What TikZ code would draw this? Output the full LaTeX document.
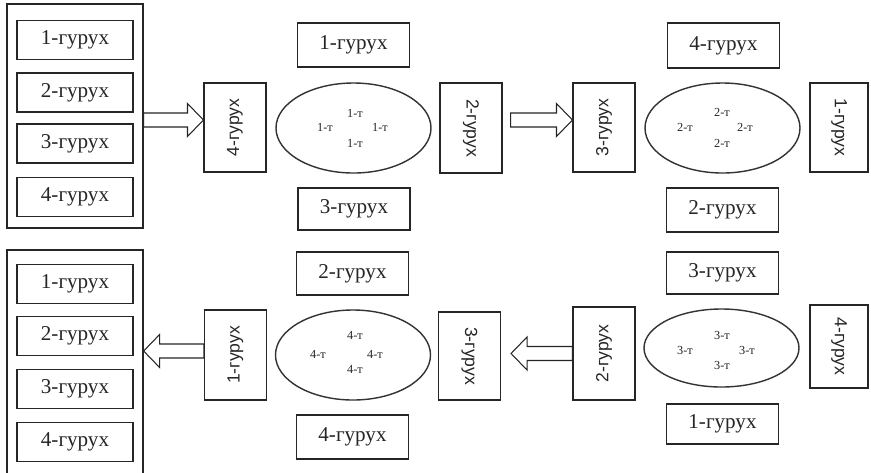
\documentclass[tikz,border=0pt]{standalone}
\usepackage{fontspec}
\usepackage{graphicx}
\setmainfont{Liberation Serif}
\newfontfamily\rotfont{Liberation Sans}
\usetikzlibrary{calc, shapes.geometric}

\begin{document}
\begin{tikzpicture}[
    x=0.2mm, y=-0.2mm,
    grp/.style={rectangle, draw=black!85, line width=0.6pt, inner sep=0pt,
        minimum width=22.4mm, minimum height=8.8mm,
        font=\fontsize{12}{14}\selectfont, text=black!85},
    frame/.style={rectangle, draw=black!85, line width=0.7pt, inner sep=0pt,
        minimum width=27.2mm, minimum height=44.8mm},
    vgrp/.style={grp, minimum width=12.4mm, minimum height=17.8mm,
        font=\rotfont\fontsize{10}{12}\selectfont},
    ring/.style={ellipse, draw=black!80, line width=0.8pt, inner sep=0pt,
        minimum width=31mm, minimum height=18mm},
    tag/.style={inner sep=0pt, font=\fontsize{7}{8}\selectfont, text=black!85},
    blockarrow/.style={draw=black!85, line width=0.6pt, to path={
        ($(\tikztotarget)!3.2mm!(\tikztostart)$) coordinate (ah)
        ($(\tikztostart)!1.4mm!90:(\tikztotarget)$)
        -- ($(ah)!1.4mm!-90:(\tikztostart)$)
        -- ($(ah)!3.3mm!-90:(\tikztostart)$) -- (\tikztotarget)
        -- ($(ah)!3.3mm!90:(\tikztostart)$)
        -- ($(ah)!1.4mm!90:(\tikztostart)$)
        -- ($(\tikztostart)!1.4mm!-90:(\tikztotarget)$) -- cycle}},
]
\useasboundingbox[fill=white] (0,0) rectangle (871,472);

% ---- upper row ----
\node[frame] (big1) at (75,116) {};
\foreach \i/\y in {1/40,2/92.5,3/143.5,4/197}
    \node[grp, minimum width=23.2mm, minimum height=7.8mm] (up\i) at (75,\y) {\i-гурух};

\node[vgrp] (v4) at (235,127.5) {\rotatebox{90}{4-гурух}};

\node[ring] (e1) at (353.5,128) {};
\node[tag] (e1n) at (355,113) {1-т};
\node[tag] (e1w) at (325,127) {1-т};
\node[tag] (e1e) at (380,127) {1-т};
\node[tag] (e1s) at (355,143) {1-т};
\node[grp] (e1top) at (353.5,45) {1-гурух};
\node[grp, minimum height=8.4mm] (e1bot) at (354,209) {3-гурух};
\node[vgrp, minimum height=18mm] (v2) at (471,128) {\rotatebox{-90}{2-гурух}};

\node[vgrp] (v3) at (604,127.5) {\rotatebox{90}{3-гурух}};
\node[ring] (e2) at (722.5,128) {};
\node[tag] (e2n) at (722,112) {2-т};
\node[tag] (e2w) at (685,127) {2-т};
\node[tag] (e2e) at (745,127) {2-т};
\node[tag] (e2s) at (722,143) {2-т};
\node[grp, minimum height=9mm] (e2top) at (723.5,45.5) {4-гурух};
\node[grp] (e2bot) at (722.5,210) {2-гурух};
\node[vgrp, minimum width=11.6mm] (v1) at (839,127.5) {\rotatebox{-90}{1-гурух}};

% ---- lower row ----
\node[frame, minimum height=45.2mm] (big2) at (75,363) {};
\foreach \i/\y in {1/284,2/336,3/389,4/442}
    \node[grp, minimum width=23.2mm, minimum height=7.9mm] (dn\i) at (75,\y) {\i-гурух};

\node[vgrp, minimum height=18mm] (v1b) at (235.5,355) {\rotatebox{90}{1-гурух}};

\node[ring] (e3) at (353,355) {};
\node[tag] (e3n) at (355,335) {4-т};
\node[tag] (e3w) at (318,354) {4-т};
\node[tag] (e3e) at (375,354) {4-т};
\node[tag] (e3s) at (355,369) {4-т};
\node[grp, minimum height=8.6mm] (e3top) at (352.5,273.5) {2-гурух};
\node[grp] (e3bot) at (352.5,437) {4-гурух};
\node[vgrp, minimum height=17.6mm] (v3b) at (469.5,356) {\rotatebox{-90}{3-гурух}};

\node[vgrp, minimum height=18.6mm] (v2b) at (604,353.5) {\rotatebox{90}{2-гурух}};
\node[ring, minimum height=15.6mm] (e4) at (721.5,348) {};
\node[tag] (e4n) at (722,335) {3-т};
\node[tag] (e4w) at (685,350) {3-т};
\node[tag] (e4e) at (747,350) {3-т};
\node[tag] (e4s) at (722,365) {3-т};
\node[grp, minimum height=8.4mm] (e4top) at (722.5,273) {3-гурух};
\node[grp, minimum height=8mm] (e4bot) at (722.5,424) {1-гурух};
\node[vgrp, minimum width=11.6mm, minimum height=16.6mm] (v4b) at (839,346.5) {\rotatebox{-90}{4-гурух}};

% ---- block arrows ----
\coordinate (a1s) at ([yshift=1.5mm]big1.east |- v4.west);
\coordinate (a1e) at ([yshift=1.5mm]v4.west);
\coordinate (a2s) at ([xshift=1.6mm,yshift=1.6mm]v2.east);
\coordinate (a2e) at ([yshift=1.5mm]v3.west);
\coordinate (a3s) at ([yshift=0.8mm]v1b.west);
\coordinate (a3e) at (big2.east |- a3s);
\coordinate (a4s) at (v2b.west);
\coordinate (a4e) at ([xshift=2mm]v3b.east |- a4s);
\draw[blockarrow] (a1s) to (a1e);
\draw[blockarrow] (a2s) to (a2e);
\draw[blockarrow] (a3s) to (a3e);
\draw[blockarrow] (a4s) to (a4e);

\end{tikzpicture}
\end{document}
